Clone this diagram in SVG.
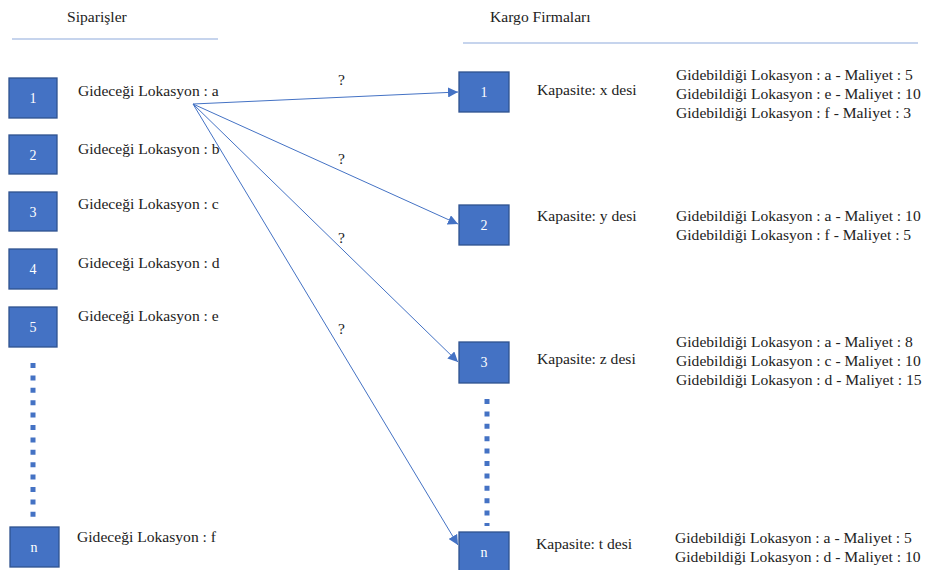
<svg xmlns="http://www.w3.org/2000/svg" width="928" height="570" viewBox="0 0 928 570" font-family="Liberation Serif, Times New Roman, DejaVu Serif, serif">
<style>
text{fill:#222;font-size:15.6px}
.box{fill:#4472c4;stroke:#2f528f;stroke-width:1.3}
.num{fill:#fff;font-size:14px;text-anchor:middle}
.hdr{stroke:#8eaadb;stroke-width:1.2}
.dots{stroke:#4472c4;stroke-width:5;stroke-dasharray:5 7.4}
.edge{stroke:#4472c4;stroke-width:1;fill:none;marker-end:url(#ah)}
</style>
<defs>
<marker id="ah" viewBox="0 0 10 10" refX="10" refY="5" markerWidth="10" markerHeight="10" markerUnits="userSpaceOnUse" orient="auto">
<path d="M0,0 L10,5 L0,10 z" fill="#4472c4"/>
</marker>
</defs>
<rect width="928" height="570" fill="#fff"/>
<g id="headers">
<text x="67" y="22">Siparişler</text>
<line class="hdr" x1="12" y1="39" x2="218" y2="39"/>
<text x="490" y="22">Kargo Firmaları</text>
<line class="hdr" x1="463" y1="43" x2="918" y2="43"/>
</g>
<g id="order-1"><rect class="box" x="9" y="78" width="48" height="40"/><text class="num" x="33" y="103">1</text><text x="78" y="96">Gideceği Lokasyon : a</text></g>
<g id="order-2"><rect class="box" x="9" y="135" width="48" height="39"/><text class="num" x="33" y="160">2</text><text x="78" y="154">Gideceği Lokasyon : b</text></g>
<g id="order-3"><rect class="box" x="9" y="192" width="48" height="39"/><text class="num" x="33" y="217">3</text><text x="78" y="209">Gideceği Lokasyon : c</text></g>
<g id="order-4"><rect class="box" x="9" y="249" width="48" height="40"/><text class="num" x="33" y="274">4</text><text x="78" y="268">Gideceği Lokasyon : d</text></g>
<g id="order-5"><rect class="box" x="9" y="307" width="48" height="40"/><text class="num" x="33" y="332">5</text><text x="78" y="321">Gideceği Lokasyon : e</text></g>
<g id="order-n"><rect class="box" x="10" y="527" width="49" height="40"/><text class="num" x="34" y="552">n</text><text x="77" y="542">Gideceği Lokasyon : f</text></g>
<g id="cargo-1"><rect class="box" x="459" y="72" width="50" height="40"/><text class="num" x="484" y="97">1</text><text x="537" y="95">Kapasite: x desi</text>
<text x="676" y="80">Gidebildiği Lokasyon : a - Maliyet : 5</text><text x="676" y="99">Gidebildiği Lokasyon : e - Maliyet : 10</text><text x="676" y="118">Gidebildiği Lokasyon : f - Maliyet : 3</text></g>
<g id="cargo-2"><rect class="box" x="459" y="205" width="50" height="40"/><text class="num" x="484" y="230">2</text><text x="537" y="221">Kapasite: y desi</text>
<text x="676" y="221">Gidebildiği Lokasyon : a - Maliyet : 10</text><text x="676" y="240">Gidebildiği Lokasyon : f - Maliyet : 5</text></g>
<g id="cargo-3"><rect class="box" x="459" y="342" width="50" height="41"/><text class="num" x="484" y="367">3</text><text x="537" y="364">Kapasite: z desi</text>
<text x="676" y="347">Gidebildiği Lokasyon : a - Maliyet : 8</text><text x="676" y="366">Gidebildiği Lokasyon : c - Maliyet : 10</text><text x="676" y="385">Gidebildiği Lokasyon : d - Maliyet : 15</text></g>
<g id="cargo-n"><rect class="box" x="459" y="532" width="50" height="42"/><text class="num" x="484" y="557">n</text><text x="536" y="549">Kapasite: t desi</text>
<text x="675" y="543">Gidebildiği Lokasyon : a - Maliyet : 5</text><text x="675" y="562">Gidebildiği Lokasyon : d - Maliyet : 10</text></g>
<g id="ellipses">
<line class="dots" x1="33" y1="363" x2="33" y2="520"/>
<line class="dots" x1="487" y1="399" x2="487" y2="526"/>
</g>
<g id="connectors">
<line class="edge" x1="193" y1="104" x2="458" y2="92"/>
<line class="edge" x1="193" y1="104" x2="458" y2="224"/>
<line class="edge" x1="193" y1="104" x2="458" y2="362"/>
<line class="edge" x1="193" y1="104" x2="458" y2="545"/>
<text x="338" y="85" font-size="14">?</text>
<text x="338" y="164" font-size="14">?</text>
<text x="338" y="243" font-size="14">?</text>
<text x="338" y="334" font-size="14">?</text>
</g>
</svg>
